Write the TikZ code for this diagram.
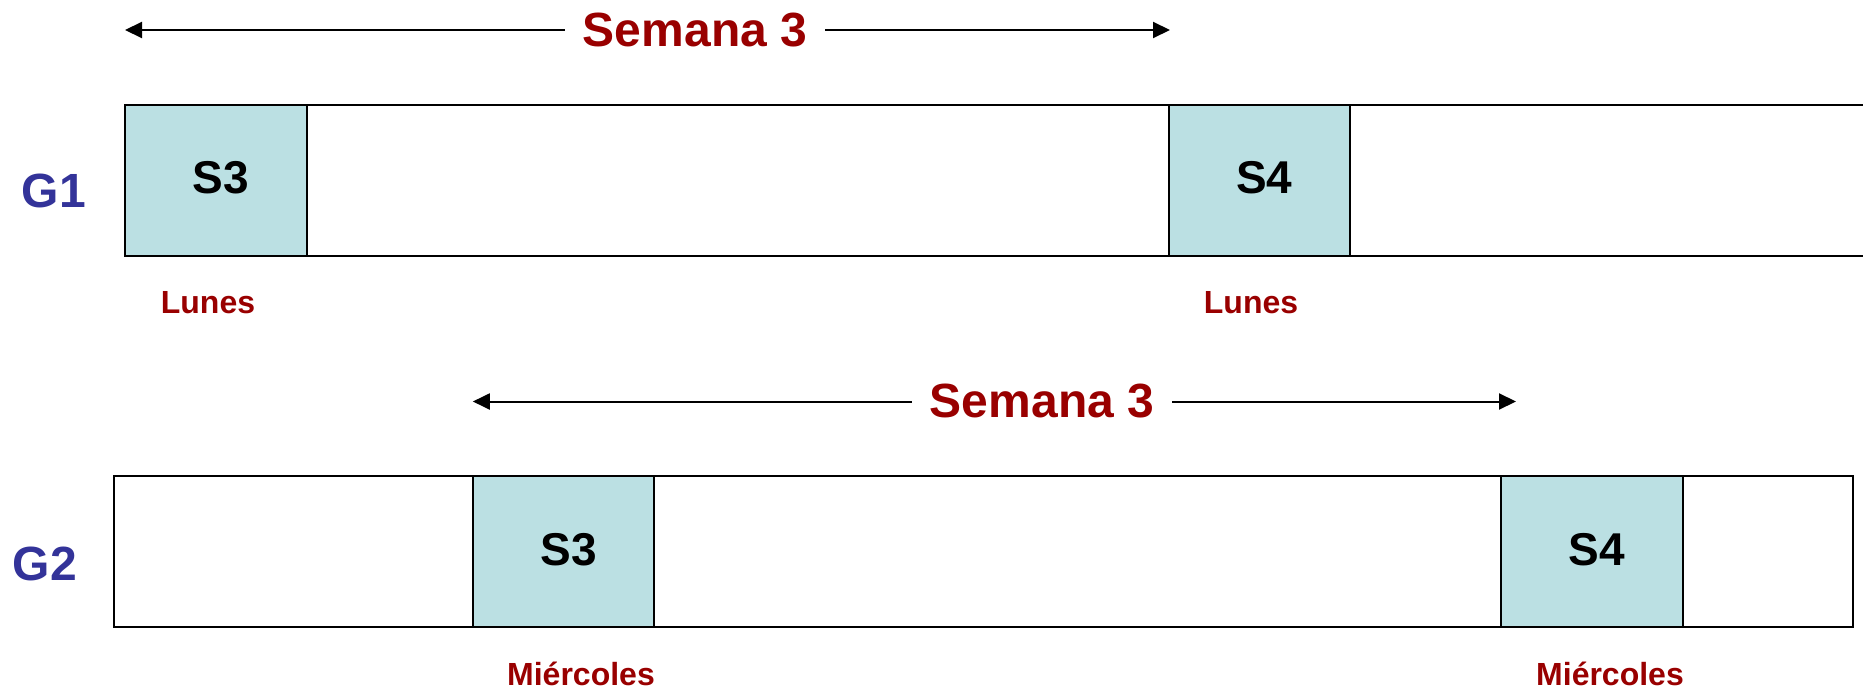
\documentclass[tikz,border=0pt]{standalone}
\usepackage{fontspec}
\setmainfont{Liberation Sans}
\usetikzlibrary{arrows.meta,positioning}
\definecolor{slotcol}{HTML}{BBE0E3}
\definecolor{dayred}{HTML}{990000}
\definecolor{grpblue}{HTML}{333399}
\tikzset{>={Triangle[length=17pt,width=16pt]}}
\tikzset{
  bar/.style={draw,line width=2pt},
  slot/.style={draw,line width=2pt,fill=slotcol,minimum width=181.5pt,minimum height=151pt,inner sep=0pt},
  slotlbl/.style={font=\fontsize{46}{52}\selectfont\bfseries},
  grp/.style={text=grpblue,anchor=base,font=\fontsize{48}{56}\selectfont\bfseries},
  day/.style={text=dayred,anchor=base,font=\fontsize{32}{38}\selectfont\bfseries},
  week/.style={text=dayred,fill=white,inner xsep=18pt,inner ysep=2pt,font=\fontsize{48}{56}\selectfont\bfseries},
  span/.style={<->,line width=2pt}
}

\begin{document}
\begin{tikzpicture}[x=1pt,y=-1pt]
\useasboundingbox (0,0) rectangle (1863,688);
% grupo 1
\draw[bar] (125,104.5) rectangle (1880,255.5);
\node[slot] (g1s3) at (215.75,180) {};
\node[slot] (g1s4) at (1259.3,180) {};
\node[slotlbl] (g1t3) at ([xshift=5pt,yshift=2pt]g1s3.center) {S3};
\node[slotlbl] (g1t4) at ([xshift=5pt,yshift=2pt]g1s4.center) {S4};
\node[grp] (g1) at (54,207) {G1};
\node[day] (g1d3) at (208,313) {Lunes};
\node[day] (g1d4) at (1251,313) {Lunes};
\coordinate (g1a) at (125,30);
\coordinate (g1b) at (1170,30);
\draw[span] (g1a) -- (g1b);
\node[week] (g1w) at (695,30) {Semana 3};
% grupo 2
\draw[bar] (114,476.4) rectangle (1853,627.3);
\node[slot] (g2s3) at (563.7,551.85) {};
\node[slot] (g2s4) at (1591.9,551.85) {};
\node[slotlbl] (g2t3) at ([xshift=5pt,yshift=2pt]g2s3.center) {S3};
\node[slotlbl] (g2t4) at ([xshift=5pt,yshift=2pt]g2s4.center) {S4};
\node[grp] (g2) at (45,580) {G2};
\node[day] (g2d3) at (581,685) {Miércoles};
\node[day] (g2d4) at (1610,685) {Miércoles};
\coordinate (g2a) at (472.8,401.5);
\coordinate (g2b) at (1516,401.5);
\draw[span] (g2a) -- (g2b);
\node[week] (g2w) at (1042,401.5) {Semana 3};
\end{tikzpicture}
\end{document}
